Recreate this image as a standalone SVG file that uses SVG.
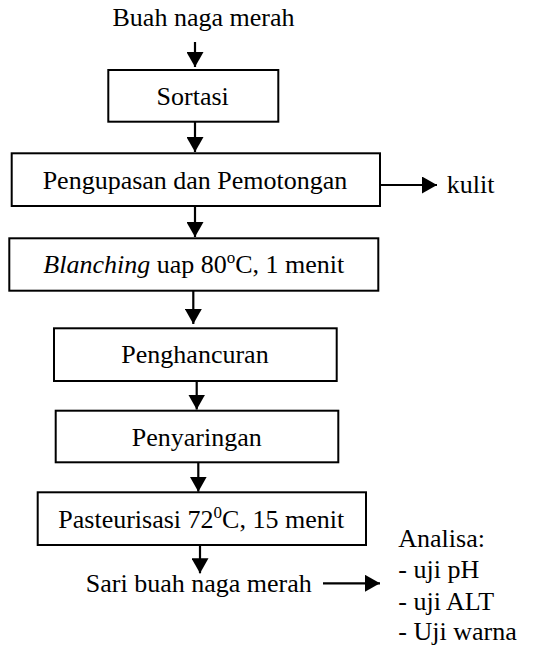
<svg xmlns="http://www.w3.org/2000/svg" width="533" height="647" viewBox="0 0 533 647">
<style>
.box{fill:#fff;stroke:#000;stroke-width:2}
.t{font-family:"Liberation Serif","Times New Roman",serif;font-size:26px;fill:#000}
.c{text-anchor:middle}
.conn line{stroke:#000;stroke-width:2.2}
.sup{font-size:17px}
</style>
<defs>
<marker id="ah" markerUnits="userSpaceOnUse" markerWidth="16" markerHeight="17" refX="15" refY="8.5" orient="auto">
<path d="M0,0 L15,8.5 L0,17 z" fill="#000"/>
</marker>
</defs>
<g id="start"><text class="t c" x="203.5" y="26">Buah naga merah</text></g>
<g id="sortasi"><rect class="box" x="108.3" y="70" width="170" height="51.7"/><text class="t c" x="192.7" y="105">Sortasi</text></g>
<g id="pengupasan"><rect class="box" x="11.7" y="153.3" width="368.3" height="52.7"/><text class="t c" x="195" y="189.3">Pengupasan dan Pemotongan</text></g>
<g id="kulit"><text class="t" x="446.7" y="192.7">kulit</text></g>
<g id="blanching"><rect class="box" x="9.3" y="238.3" width="369" height="52.4"/><text class="t" x="43.3" y="273.3"><tspan font-style="italic">Blanching</tspan> uap 80<tspan class="sup" dy="-10">o</tspan><tspan dy="10">C, 1 menit</tspan></text></g>
<g id="penghancuran"><rect class="box" x="54" y="328.3" width="282.7" height="52.7"/><text class="t c" x="195" y="363.3">Penghancuran</text></g>
<g id="penyaringan"><rect class="box" x="55.7" y="410.7" width="282.6" height="51.6"/><text class="t c" x="196.8" y="446">Penyaringan</text></g>
<g id="pasteurisasi"><rect class="box" x="37.7" y="492.3" width="328.3" height="52.7"/><text class="t" x="58.3" y="528.3">Pasteurisasi 72<tspan class="sup" dy="-10">0</tspan><tspan dy="10">C, 15 menit</tspan></text></g>
<g id="sari"><text class="t c" x="198.8" y="591.7">Sari buah naga merah</text></g>
<g id="analisa"><text class="t" x="398.3" y="546.7">Analisa:</text><text class="t" x="398.3" y="578.3">- uji pH</text><text class="t" x="398.3" y="610">- uji ALT</text><text class="t" x="398.3" y="640">- Uji warna</text></g>
<g id="connectors" class="conn">
<line x1="195" y1="42" x2="195" y2="67" marker-end="url(#ah)"/>
<line x1="195" y1="122" x2="195" y2="152" marker-end="url(#ah)"/>
<line x1="195" y1="206" x2="195" y2="237" marker-end="url(#ah)"/>
<line x1="193.3" y1="291" x2="193.3" y2="324" marker-end="url(#ah)"/>
<line x1="196.7" y1="381" x2="196.7" y2="409.5" marker-end="url(#ah)"/>
<line x1="198.3" y1="462.3" x2="198.3" y2="491.7" marker-end="url(#ah)"/>
<line x1="200" y1="545" x2="200" y2="573.3" marker-end="url(#ah)"/>
<line x1="381" y1="185" x2="437" y2="185" marker-end="url(#ah)"/>
<line x1="323" y1="583.3" x2="380" y2="583.3" marker-end="url(#ah)"/>
</g>
</svg>
